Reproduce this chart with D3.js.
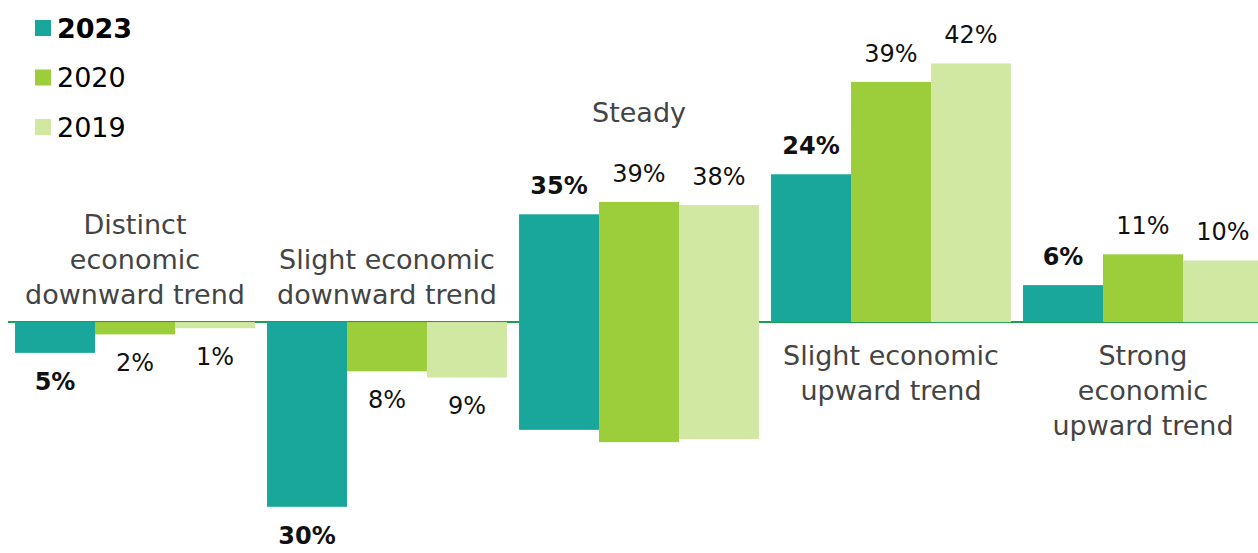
<!DOCTYPE html>
<html>
<head>
<meta charset="utf-8">
<script src="https://cdn.jsdelivr.net/npm/d3@7"></script>
<style>
  body { margin: 0; background: #fff; }
  svg { display: block; font-family: "DejaVu Sans", Verdana, sans-serif; }
</style>
</head>
<body>
<div id="chart"></div>
<script>
// data
var categories = ["Distinct economic downward trend", "Slight economic downward trend", "Steady",
  "Slight economic upward trend", "Strong economic upward trend"];
var categoryLines = [["Distinct", "economic", "downward trend"], ["Slight economic", "downward trend"],
  ["Steady"], ["Slight economic", "upward trend"], ["Strong", "economic", "upward trend"]];
var direction = ["down", "down", "centre", "up", "up"];
var years = ["2023", "2020", "2019"];
var values2023 = [5, 30, 35, 24, 6];
var values2020 = [2, 8, 39, 39, 11];
var values2019 = [1, 9, 38, 42, 10];
var colors = ["#18a79a", "#9ccd3a", "#d1e8a3"];

var width = 1258, height = 553;
var series = [values2023, values2020, values2019];

var svg = d3.select("#chart").append("svg")
  .attr("width", width)
  .attr("height", height);

var x0 = d3.scaleBand()
  .domain(categories)
  .range([9, 1269])
  .paddingInner(0.048)
  .paddingOuter(0.024);

var x1 = d3.scaleBand()
  .domain(years)
  .range([0, x0.bandwidth()]);

var y = d3.scaleLinear()
  .domain([-37.5, 52.3])
  .range([height, 0]);

var color = d3.scaleOrdinal().domain(years).range(colors);

// bar extent in data units, depending on the category direction
function extent(v, i) {
  if (direction[i] == "down") return [-v, 0];
  if (direction[i] == "up") return [0, v];
  return [-v / 2, v / 2];
}

// baseline
svg.append("line")
  .attr("x1", 8)
  .attr("x2", width)
  .attr("y1", y(0))
  .attr("y2", y(0))
  .attr("stroke", "#1e9e4e")
  .attr("stroke-width", 2);

var rows = [];
categories.forEach(function(c, i) {
  years.forEach(function(yr, j) {
    var v = series[j][i];
    var e = extent(v, i);
    rows.push({cat: c, i: i, year: yr, j: j, value: v, lo: e[0], hi: e[1]});
  });
});

svg.selectAll("rect.bar")
  .data(rows)
  .enter().append("rect")
    .attr("class", "bar")
    .attr("x", function(d) { return x0(d.cat) + x1(d.year); })
    .attr("width", x1.bandwidth())
    .attr("y", function(d) { return y(d.hi); })
    .attr("height", function(d) { return y(d.lo) - y(d.hi); })
    .attr("fill", function(d) { return color(d.year); });

// value labels
svg.selectAll("text.value")
  .data(rows)
  .enter().append("text")
    .attr("class", "value")
    .attr("x", function(d) { return x0(d.cat) + x1(d.year) + x1.bandwidth() / 2; })
    .attr("y", function(d) {
      if (direction[d.i] == "down") return y(d.lo) + 29;
      return y(d.hi) - 28;
    })
    .attr("text-anchor", "middle")
    .attr("dominant-baseline", "central")
    .attr("font-size", 24)
    .attr("font-weight", function(d) { return d.j == 0 ? "bold" : "normal"; })
    .attr("fill", "#111")
    .text(function(d) { return d.value + "%"; });

// category labels
categories.forEach(function(c, i) {
  var lines = categoryLines[i];
  var cx = x0(c) + x0.bandwidth() / 2;
  lines.forEach(function(t, k) {
    var ty;
    if (direction[i] == "down") ty = y(0) - 28 - (lines.length - 1 - k) * 35;
    else if (direction[i] == "up") ty = y(0) + 33 + k * 35;
    else ty = y(d3.max(series, function(s) { return s[i]; }) / 2) - 89;
    svg.append("text")
      .attr("x", cx)
      .attr("y", ty)
      .attr("text-anchor", "middle")
      .attr("dominant-baseline", "central")
      .attr("font-size", 27)
      .attr("fill", "#444")
      .text(t);
  });
});

// legend
var legend = svg.selectAll("g.legend")
  .data(years)
  .enter().append("g")
    .attr("class", "legend")
    .attr("transform", function(d, i) { return "translate(35," + (20 + i * 49.5) + ")"; });

legend.append("rect")
  .attr("width", 16)
  .attr("height", 16)
  .attr("fill", function(d) { return color(d); });

legend.append("text")
  .attr("x", 22)
  .attr("y", 8)
  .attr("dominant-baseline", "central")
  .attr("font-size", 27)
  .attr("font-weight", function(d, i) { return i == 0 ? "bold" : "normal"; })
  .attr("fill", "#000")
  .text(function(d) { return d; });
</script>
</body>
</html>
